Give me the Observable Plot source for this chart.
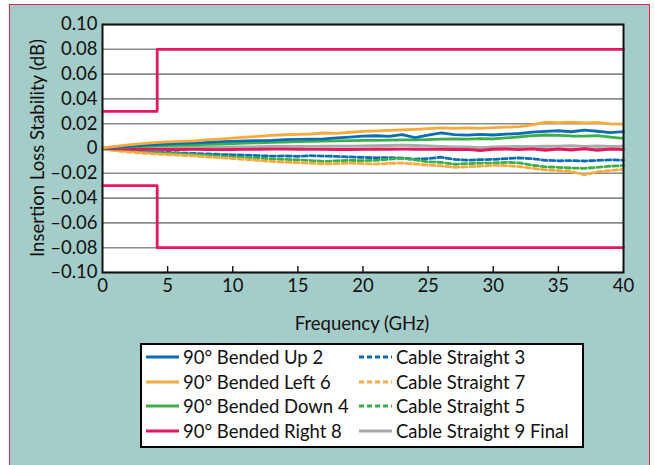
<!DOCTYPE html>
<html><head><meta charset="utf-8">
<script src="https://cdn.jsdelivr.net/npm/d3@7"></script>
<script src="https://cdn.jsdelivr.net/npm/@observablehq/plot@0.6"></script>
<style>
body{margin:0;background:#fff;font-family:Lato,"Open Sans",sans-serif;color:#111;}
#fig{position:absolute;left:9px;top:4px;width:639px;height:470px;background:#a4ccc9;border:1px solid #dc2b3c;}
#chart{position:absolute;left:0;top:0;}
#chart svg text{font-size:18.5px !important;}
.title{position:absolute;font-size:18.5px;white-space:nowrap;}
#ytitle{left:37px;top:148px;transform:translate(-50%,-50%) rotate(-90deg);}
#xtitle{left:362px;top:323px;transform:translate(-50%,-50%);}
#legend{position:absolute;left:140px;top:343px;width:440px;height:101px;background:#fff;border:2px solid #000;}
.entry{position:absolute;height:24px;display:flex;align-items:center;font-size:18.5px;white-space:nowrap;}
.entry svg{margin-right:4px;}
</style></head>
<body>
<div id="fig"></div>
<div id="chart"></div>
<div class="title" id="ytitle">Insertion Loss Stability (dB)</div>
<div class="title" id="xtitle">Frequency (GHz)</div>
<div id="legend"></div>
<script>
const freq = [0,1,2,3,4,5,6,7,8,9,10,11,12,13,14,15,16,17,18,19,20,21,22,23,24,25,26,27,28,29,30,31,32,33,34,35,36,37,38,39,40];

const bendedUp2 = [0.0003,0.001,0.0018,0.0025,0.0032,0.0037,0.0041,0.0045,0.005,0.0055,0.0058,0.0062,0.0064,0.0066,0.0071,0.0074,0.0076,0.0078,0.0085,0.0092,0.0100,0.0103,0.0098,0.0112,0.0088,0.0108,0.0126,0.0112,0.0108,0.0114,0.0109,0.0116,0.0121,0.0132,0.0138,0.0143,0.0135,0.0148,0.0139,0.0128,0.0136];
const bendedLeft6 = [0.0005,0.0018,0.003,0.004,0.0048,0.0053,0.0057,0.0061,0.0069,0.0076,0.0083,0.0091,0.0098,0.0106,0.0111,0.0114,0.0117,0.0125,0.0122,0.0131,0.0138,0.0142,0.0146,0.015,0.0155,0.016,0.0166,0.0162,0.0167,0.0163,0.0168,0.0172,0.0176,0.0190,0.0212,0.0208,0.0213,0.0206,0.0210,0.0198,0.0196];
const bendedDown4 = [0.0003,0.0008,0.0013,0.0018,0.0022,0.0025,0.0027,0.003,0.0033,0.0036,0.004,0.0043,0.0046,0.0049,0.0052,0.0055,0.0058,0.006,0.0062,0.0063,0.0065,0.0066,0.0067,0.0069,0.007,0.0072,0.0075,0.0078,0.0076,0.0079,0.0078,0.0085,0.0094,0.0103,0.0109,0.0106,0.0101,0.0099,0.0104,0.0092,0.0082];
const bendedRight8 = [0,-0.0003,-0.0005,-0.0006,-0.0007,-0.0008,-0.0008,-0.0007,-0.0008,-0.0009,-0.0008,-0.0007,-0.0006,-0.0005,-0.0005,-0.0006,-0.0007,-0.0007,-0.0008,-0.0008,-0.0007,-0.0006,-0.0006,-0.0005,-0.0006,-0.0007,-0.0006,-0.0008,-0.0007,-0.0016,-0.0006,-0.0004,-0.0009,-0.0003,-0.0014,-0.0004,-0.0012,-0.0002,-0.0015,-0.0004,-0.0008];
const straight3 = [0,-0.0008,-0.0015,-0.0022,-0.0028,-0.0032,-0.0036,-0.004,-0.0044,-0.0048,-0.0051,-0.0054,-0.0058,-0.0062,-0.006,-0.0063,-0.0058,-0.0061,-0.0064,-0.0068,-0.0072,-0.0075,-0.0073,-0.0078,-0.0086,-0.0081,-0.007,-0.0088,-0.0094,-0.009,-0.0088,-0.0082,-0.0076,-0.0082,-0.0095,-0.0099,-0.0098,-0.0101,-0.0096,-0.0092,-0.0094];
const straight7 = [-0.0005,-0.0018,-0.0028,-0.0036,-0.0043,-0.0049,-0.0054,-0.006,-0.0067,-0.0074,-0.0081,-0.0088,-0.0096,-0.0104,-0.011,-0.0114,-0.0119,-0.0124,-0.0122,-0.0118,-0.0122,-0.0126,-0.012,-0.0118,-0.0125,-0.0134,-0.014,-0.0152,-0.0148,-0.0142,-0.0136,-0.0138,-0.0146,-0.016,-0.0172,-0.0178,-0.0186,-0.0212,-0.0188,-0.0178,-0.0168];
const straight5 = [0,-0.0012,-0.002,-0.0027,-0.0033,-0.0038,-0.0042,-0.0048,-0.0055,-0.0062,-0.0068,-0.0073,-0.0078,-0.0084,-0.0088,-0.0092,-0.0097,-0.0104,-0.0099,-0.0096,-0.0098,-0.0095,-0.0086,-0.0078,-0.0092,-0.0108,-0.0112,-0.0127,-0.0122,-0.0118,-0.0117,-0.0112,-0.0116,-0.0135,-0.0148,-0.0152,-0.0158,-0.016,-0.0152,-0.0142,-0.0138];
const straight9Final = [0,0.0003,0.0005,0.0006,0.0007,0.0008,0.0009,0.001,0.001,0.0011,0.0012,0.0013,0.0014,0.0016,0.0016,0.0017,0.0017,0.0018,0.0019,0.0019,0.002,0.0022,0.0024,0.0027,0.0024,0.002,0.0017,0.0013,0.0012,0.0006,0.0013,0.0014,0.0016,0.0015,0.0018,0.0018,0.0024,0.0016,0.002,0.0017,0.0019];

const limitX = [0, 4.2, 4.2, 40];
const upperLimit = [0.03, 0.03, 0.08, 0.08];
const lowerLimit = [-0.03, -0.03, -0.08, -0.08];

const xTicks = [0,5,10,15,20,25,30,35,40];
const yTicks = [-0.1,-0.08,-0.06,-0.04,-0.02,0,0.02,0.04,0.06,0.08,0.1];
const yTickLabels = ["–0.10","–0.08","–0.06","–0.04","–0.02","0","0.02","0.04","0.06","0.08","0.10"];

const seriesNames = ["90° Bended Up 2","90° Bended Left 6","90° Bended Down 4","90° Bended Right 8","Cable Straight 3","Cable Straight 7","Cable Straight 5","Cable Straight 9 Final"];
const seriesValues = [bendedUp2,bendedLeft6,bendedDown4,bendedRight8,straight3,straight7,straight5,straight9Final];
const seriesColors = ["#0a6db5","#f9aa3c","#3bb04a","#e8175d","#0a6db5","#f9aa3c","#3bb04a","#a9a9a9"];
const seriesDash = [null,null,null,null,"5,3","5,3","5,3",null];

const drawOrder = [4,6,5,7,3,2,0,1];

const limitRows = limitX.map((x,i)=>({x, up: upperLimit[i], lo: lowerLimit[i]}));

const lineMarks = drawOrder.map(si => {
  const rows = freq.map((f,i)=>({f, v: seriesValues[si][i]}));
  return Plot.line(rows, {x:"f", y:"v", stroke: seriesColors[si], strokeWidth: 2.8, strokeDasharray: seriesDash[si] || undefined, strokeLinejoin:"round"});
});

const chart = Plot.plot({
  width: 655, height: 300,
  marginLeft: 102, marginRight: 32, marginTop: 24, marginBottom: 28,
  style: {background:"transparent", fontFamily:"Lato, 'Open Sans', sans-serif", fontSize:"18.5px", color:"#111"},
  x: {domain:[0,40]},
  y: {domain:[-0.1,0.1]},
  marks: [
    Plot.frame({fill:"white"}),
    Plot.gridY(yTicks, {stroke:"#8a8a8a", strokeOpacity:1, strokeWidth:1.6}),
    Plot.line(limitRows, {x:"x", y:"up", stroke:"#e8175d", strokeWidth:2.8}),
    Plot.line(limitRows, {x:"x", y:"lo", stroke:"#e8175d", strokeWidth:2.8}),
    ...lineMarks,
    Plot.tickX(xTicks.slice(1,-1), {stroke:"#111", strokeWidth:1.4, insetTop: 242}),
    Plot.frame({stroke:"#111", strokeWidth:2}),
    Plot.axisY(yTicks, {tickSize:0, tickPadding:5, tickFormat:(d,i)=>yTickLabels[i], label:null}),
    Plot.axisX(xTicks, {tickSize:0, tickPadding:6, label:null})
  ]
});
document.getElementById("chart").appendChild(chart);

// legend
const legend = document.getElementById("legend");
const cols = [[0,1,2,3],[4,5,6,7]];
const colLeft = [4, 217];
cols.forEach((col, c) => col.forEach((si, r) => {
  const e = document.createElement("div");
  e.className = "entry";
  e.style.left = colLeft[c] + "px";
  e.style.top = (r * 24.5) + "px";
  const dash = seriesDash[si] ? `stroke-dasharray="5,3"` : "";
  e.innerHTML = `<svg width="33" height="6"><line x1="0" x2="33" y1="3" y2="3" stroke="${seriesColors[si]}" stroke-width="3" ${dash}/></svg><span>${seriesNames[si]}</span>`;
  legend.appendChild(e);
}));
</script>
</body></html>
